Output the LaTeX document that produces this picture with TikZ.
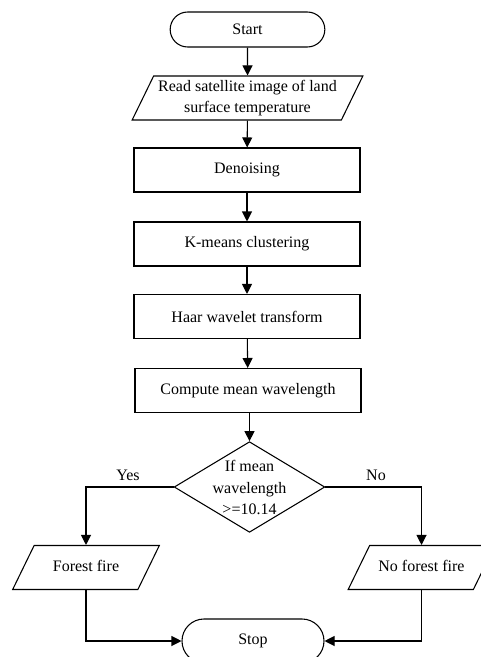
\documentclass[tikz,border=0pt]{standalone}
\usepackage{fontspec}
\setmainfont{Liberation Serif}
\usetikzlibrary{shapes.geometric,shapes.misc,arrows.meta}

\begin{document}
\begin{tikzpicture}[x=0.75pt,y=0.75pt,yscale=-1,xscale=1,
  font=\fontsize{12}{14.5}\selectfont,
  startstop/.style={draw,line width=0.8pt,rounded rectangle,minimum height=#1,inner sep=0pt},
  process/.style={draw,line width=0.8pt,rectangle,minimum width=169.5pt,minimum height=33pt,inner sep=0pt},
  inout/.style={draw,line width=0.8pt,trapezium,trapezium left angle=64,trapezium right angle=116,
    trapezium stretches body,minimum width=#1,text height=9pt,text depth=3pt,inner xsep=0pt,inner ysep=10.5pt},
  decision/.style={draw,line width=0.8pt,diamond,minimum width=113pt,minimum height=68pt,inner sep=0pt},
  flow/.style={line width=0.8pt,-{Triangle[length=7.5pt,width=7.5pt]}}]
\useasboundingbox (0,0) rectangle (480,657);

% Terminals
\node [startstop=26.25pt,minimum width=116pt] (start) at (247.5,29.5) {Start};
\node [startstop=33pt,minimum width=106.5pt] (stop) at (253,641) {Stop};

% Input
\node [inout=173pt] (read) at (247.5,98)
  {\smash{\renewcommand\arraystretch{1.05}\begin{tabular}{@{}c@{}}Read satellite image of land\\surface temperature\end{tabular}}};

% Process boxes
\node [process] (denoise) at (247,170) {Denoising};
\node [process] (kmeans) at (247,244) {K-means clustering};
\node [process] (haar) at (247,316.5) {Haar wavelet transform};
\node [process] (mean) at (248,390.5) {Compute mean wavelength};

% Decision
\node [decision] (cond) at (249.5,487)
  {\smash{\raisebox{-4.5pt}{\renewcommand\arraystretch{1.1}\begin{tabular}{@{}c@{}}If mean\\wavelength\\>=10.14\end{tabular}}}};

% Outputs
\node [inout=110pt] (fire) at (86,567.5) {Forest fire};
\node [inout=110pt] (nofire) at (421.5,567.5) {No forest fire};

% Branch labels
\node (yes) at (128,475) {Yes};
\node (no) at (376,475) {No};

% Connectors
\draw [flow] (start) -- (read);
\draw [flow] (read) -- (denoise);
\draw [flow] (denoise) -- (kmeans);
\draw [flow] (kmeans) -- (haar);
\draw [flow] (haar) -- (mean);
\draw [flow] (mean.south -| cond.north) -- (cond.north);
\draw [flow] (cond.west) -| (fire.north);
\draw [flow] (cond.east) -| (nofire.north);
\draw [flow] (fire.south) |- (stop.west);
\draw [flow] (nofire.south) |- (stop.east);

\end{tikzpicture}
\end{document}
